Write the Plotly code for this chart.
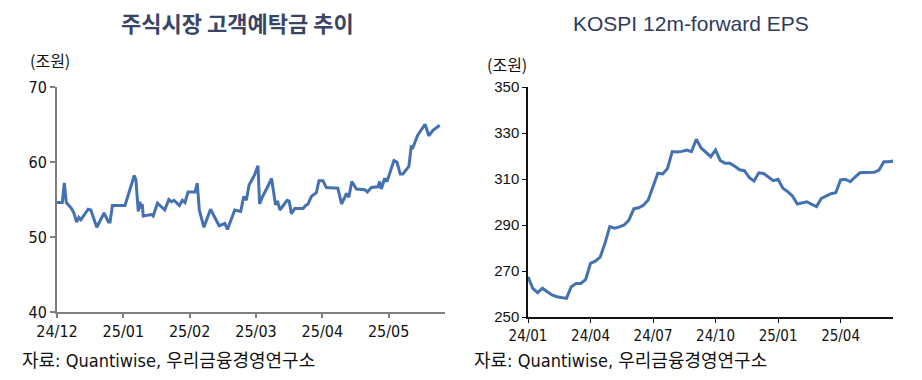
import plotly.graph_objects as go

# ---- Left chart: customer deposits (trading-day position, 조원)
dep_t = [0, 1.6, 2.2, 2.8, 4.4, 5.1, 5.9, 6.6, 7.2, 9.4, 10.2, 12.0, 14.2, 15.5, 16.0,
         16.7, 20.5, 23.3, 23.8, 24.5, 25.0, 25.3, 25.7, 26.0, 28.5, 29.0, 30.3, 32.5,
         33.7, 34.5, 35.3, 36.9, 37.8, 38.6, 39.5, 41.6, 42.3, 42.9, 44.3, 46.3, 48.9,
         50.6, 51.4, 53.6, 55.4, 56.3, 57.1, 57.9, 59.6, 60.6, 61.1, 62.0, 63.3, 64.7,
         65.9, 66.5, 67.2, 69.4, 70.0, 70.7, 71.7, 74.2, 75.0, 75.7, 76.7, 78.2, 79.0,
         80.2, 81.2, 84.7, 85.8, 87.3, 88.0, 88.9, 90.3, 92.8, 93.6, 94.8, 96.8, 97.3,
         97.8, 98.8, 99.5, 100.3, 101.6, 102.5, 103.5, 104.3, 106.1, 106.8, 107.3,
         108.8, 110.8, 111.1, 112.1, 113.3, 115.4]
dep_val = [54.6, 54.6, 57.2, 54.6, 53.8, 53.2, 52.0, 52.6, 52.3, 53.7, 53.6, 51.3, 53.2,
           52.0, 52.0, 54.2, 54.2, 58.2, 57.6, 53.4, 54.7, 53.8, 54.4, 52.8, 53.0, 52.8,
           54.5, 53.6, 55.0, 54.7, 54.9, 54.2, 54.9, 54.6, 56.0, 56.0, 57.2, 53.6, 51.3,
           53.7, 51.5, 51.8, 51.0, 53.6, 53.4, 55.4, 54.9, 56.9, 58.3, 59.5, 54.4, 55.4,
           56.5, 57.8, 54.3, 54.8, 53.6, 54.9, 54.8, 53.1, 53.8, 53.8, 54.2, 54.4, 55.4,
           55.9, 57.5, 57.5, 56.6, 56.5, 54.4, 55.8, 55.3, 57.4, 56.4, 56.3, 56.0, 56.6,
           56.7, 57.4, 56.4, 57.8, 57.4, 58.5, 60.2, 60.0, 58.4, 58.4, 59.4, 62.0, 61.9,
           63.6, 64.9, 64.9, 63.5, 64.2, 64.9]
dep_tickpos = [0, 20, 40, 60, 80, 100]
dep_ticklab = ["24/12", "25/01", "25/02", "25/03", "25/04", "25/05"]

# ---- Right chart: KOSPI 12m-forward EPS (weekly, 조원)
eps_val = [267.5, 262.5, 260.6, 262.5, 261.0, 259.6, 258.8, 258.4, 258.1, 263.2, 264.6,
           264.6, 266.4, 273.3, 274.3, 276.0, 282.0, 289.3, 288.6, 289.2, 290.0, 292.2,
           297.0, 297.5, 298.6, 300.9, 306.7, 312.5, 312.2, 314.6, 321.9, 321.7, 322.0,
           322.6, 321.9, 327.3, 323.5, 321.5, 319.7, 322.6, 318.0, 316.8, 316.8, 315.5,
           314.0, 313.6, 310.7, 309.1, 312.7, 312.4, 311.0, 309.3, 309.9, 306.0, 304.5,
           302.6, 299.1, 299.5, 300.1, 299.0, 298.0, 301.6, 302.6, 303.6, 304.0, 309.6,
           309.9, 308.8, 310.8, 312.7, 312.8, 312.9, 312.9, 313.9, 317.5, 317.5, 317.8]
eps_week = list(range(len(eps_val)))
eps_tickpos = [0, 13, 26, 39, 52, 65]
eps_ticklab = ["24/01", "24/04", "24/07", "24/10", "25/01", "25/04"]

W, H = 922, 380
LINE = "#4471B2"
NARROW = "DejaVu Sans Condensed, Liberation Sans Narrow, Arial Narrow, sans-serif"
KR = "Noto Sans CJK KR, Noto Sans, sans-serif"

fig = go.Figure()
fig.add_trace(go.Scatter(x=dep_t, y=dep_val, mode="lines", xaxis="x", yaxis="y",
                         line=dict(color=LINE, width=3), showlegend=False))
fig.add_trace(go.Scatter(x=eps_week, y=eps_val, mode="lines", xaxis="x2", yaxis="y2",
                         line=dict(color=LINE, width=3), showlegend=False))

def px_x(a, b):
    return [a / W, b / W]

def px_y(top, bottom):
    return [1 - bottom / H, 1 - top / H]

common = dict(showgrid=False, zeroline=False, showline=True, automargin=False, ticks="outside")

fig.update_layout(
    width=W, height=H, margin=dict(l=0, r=0, t=0, b=0, pad=0, autoexpand=False),
    paper_bgcolor="white", plot_bgcolor="white",
    xaxis=dict(domain=px_x(57, 445), range=[0, 117], tickvals=dep_tickpos, ticktext=dep_ticklab,
               linecolor="#808080", linewidth=2, ticklen=4, tickcolor="#808080", tickwidth=1.5,
               tickfont=dict(family=NARROW, size=16, color="#111"), anchor="y", **common),
    yaxis=dict(domain=px_y(87, 312), range=[40, 70], tickvals=[40, 50, 60, 70],
               linecolor="#808080", linewidth=2, ticklen=5, tickcolor="#808080", tickwidth=1.5,
               tickfont=dict(family=NARROW, size=16, color="#111"), anchor="x", **common),
    xaxis2=dict(domain=px_x(528, 893), range=[0, 75.9], tickvals=eps_tickpos, ticktext=eps_ticklab,
                linecolor="#111", linewidth=1.5, ticklen=4, tickcolor="#111", tickwidth=1.2,
                tickfont=dict(family=NARROW, size=15, color="#111"), anchor="y2", **common),
    yaxis2=dict(domain=px_y(87, 317), range=[250, 350], tickvals=[250, 270, 290, 310, 330, 350],
                linecolor="#111", linewidth=1.5, ticklen=4, tickcolor="#111", tickwidth=1.2,
                tickfont=dict(family="Liberation Sans, Arial, sans-serif", size=15, color="#111"),
                anchor="x2", **common),
)

def ann(text, x, y, size, color="#111", family=KR, xanchor="left"):
    fig.add_annotation(text=text, x=x / W, y=1 - y / H, xref="paper", yref="paper",
                       xanchor=xanchor, yanchor="middle", showarrow=False,
                       font=dict(family=family, size=size, color=color))

ann("<b>주식시장 고객예탁금 추이</b>", 237, 22, 22, color="#3a4566", xanchor="center")
ann("KOSPI 12m-forward EPS", 691, 24, 21, color="#2f3a5e",
    family="Liberation Sans, Arial, sans-serif", xanchor="center")
ann("(조원)", 28, 60, 16)
ann("(조원)", 485, 64, 16)
ann("자료: Quantiwise, 우리금융경영연구소", 20, 360, 18, family=NARROW + ", " + KR)
ann("자료: Quantiwise, 우리금융경영연구소", 472, 360, 18, family=NARROW + ", " + KR)

fig.write_html("out.html", config={"displayModeBar": False},
               post_script="document.body.style.margin='0';")
